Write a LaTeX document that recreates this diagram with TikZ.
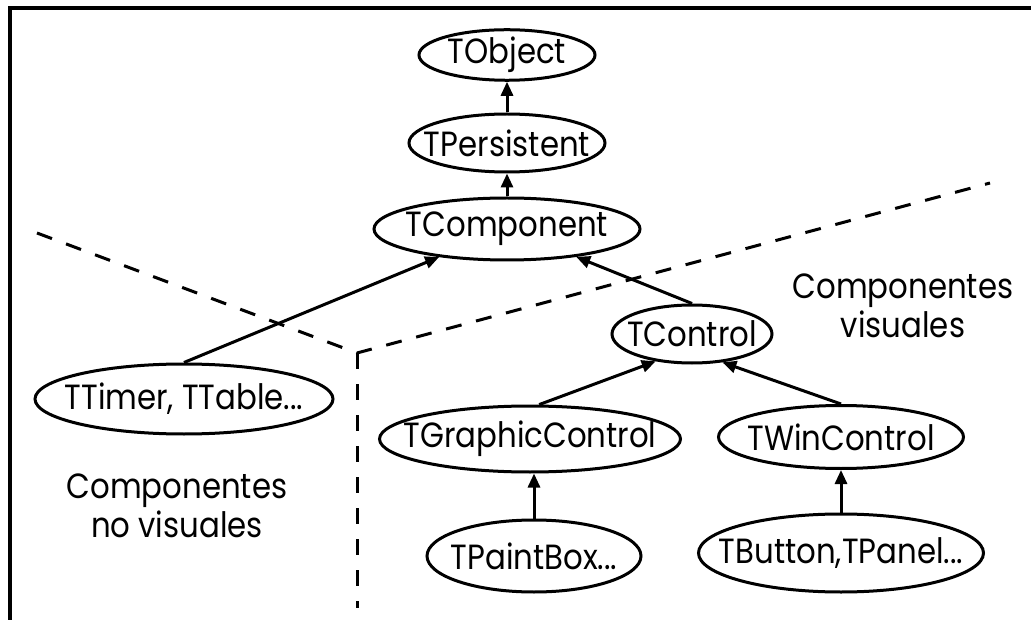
\documentclass[tikz,border=0pt]{standalone}
\usepackage{fontspec}
\setmainfont[FakeStretch=0.88]{Poppins}
\usetikzlibrary{shapes.geometric,arrows.meta}
% class name set in a zero-width box, so that the ellipse keeps its given size
\newcommand\clsname[1]{\makebox[0pt]{#1}}
\begin{document}
\begin{tikzpicture}[x=1pt,y=-1pt,
  cls/.style={ellipse, draw, fill=white, line width=3pt, inner sep=0pt,
              font=\fontsize{35}{40}\selectfont},
  inh/.style={line width=3pt, -{Triangle[length=14pt,width=12pt]}},
  divider/.style={line width=3pt, dash pattern=on 16pt off 15pt},
  lbl/.style={align=center, inner sep=0pt, font=\fontsize{35}{39}\selectfont}]
\clip (0,0) rectangle (1031,620);
\fill[white] (0,0) rectangle (1031,620);
% frame (only top and left edges are visible)
\draw[line width=4pt] (1045,8.5) -- (10,8.5) -- (10,635);

% dividing lines between visual and non-visual components
\coordinate (dl) at (37,233);
\coordinate (dc) at (357,353);
\coordinate (dr) at (990,183);
\coordinate (db) at (357,608);
\draw[divider] (dl) -- (dc) -- (dr);
\draw[divider] (dc) -- (db);

% class hierarchy
\node[cls, minimum width=176pt, minimum height=46pt] (tobject)    at (507,55)  {\clsname{TObject}};
\node[cls, minimum width=196pt, minimum height=58pt] (tpersist)   at (507,143) {\clsname{TPersistent}};
\node[cls, minimum width=266pt, minimum height=62pt] (tcomponent) at (507,229) {\clsname{TComponent}};
\node[cls, minimum width=160pt, minimum height=58pt] (tcontrol)   at (692,334) {\clsname{TControl}};
\node[cls, minimum width=298pt, minimum height=70pt] (ttimer)     at (184,399) {\clsname{TTimer, TTable...}};
\node[cls, minimum width=301pt, minimum height=66pt] (tgraphic)   at (530,439) {\clsname{TGraphicControl}};
\node[cls, minimum width=245pt, minimum height=63pt] (twin)       at (841,437) {\clsname{TWinControl}};
\node[cls, minimum width=214pt, minimum height=72pt] (tpaint)     at (534,556) {\clsname{TPaintBox...}};
\node[cls, minimum width=285pt, minimum height=78pt] (tbutton)    at (841,553) {\clsname{TButton,TPanel...}};

% inheritance arrows (child -> parent)
\draw[inh] (tpersist) -- (tobject);
\draw[inh] (tcomponent) -- (tpersist);
\draw[inh] (ttimer.north) -- (tcomponent);
\draw[inh] (tcontrol.north) -- (tcomponent);
\draw[inh] (tgraphic.75) -- (tcontrol.217);
\draw[inh] (twin.north) -- (tcontrol.317);
\draw[inh] (tpaint.north) -- (tpaint.north |- tgraphic.south);
\draw[inh] (tbutton) -- (twin);

% region labels
\node[lbl] (visual)   at (903,306) {Componentes\\visuales};
\node[lbl] (novisual) at (177,506) {Componentes\\no visuales};
\end{tikzpicture}
\end{document}
